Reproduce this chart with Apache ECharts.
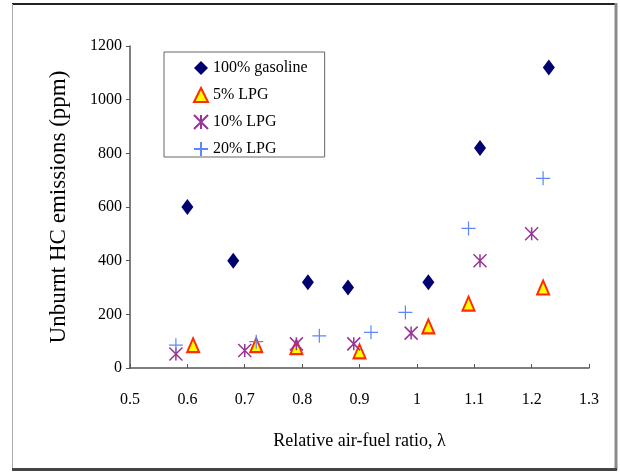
<!DOCTYPE html>
<html>
<head>
<meta charset="utf-8">
<script src="https://cdn.jsdelivr.net/npm/echarts@6/dist/echarts.min.js"></script>
<style>
  html, body { margin: 0; padding: 0; background: #fff; }
  #chart { width: 620px; height: 472px; }
</style>
</head>
<body>
<div id="chart"></div>
<script>
// lambda, ppm pairs
var gasoline = [[0.60, 600], [0.68, 400], [0.81, 320], [0.88, 300], [1.02, 320], [1.11, 820], [1.23, 1120]]
var lpg5 = [[0.61, 85], [0.72, 85], [0.79, 78], [0.90, 62], [1.02, 155], [1.09, 240], [1.22, 300]]
var lpg10 = [[0.58, 52], [0.70, 65], [0.79, 90], [0.89, 90], [0.99, 130], [1.11, 400], [1.20, 500]]
var lpg20 = [[0.58, 85], [0.72, 98], [0.83, 120], [0.92, 133], [0.98, 207], [1.09, 520], [1.22, 707]]
var seriesNames = ['100% gasoline', '5% LPG', '10% LPG', '20% LPG']

var serif = 'Liberation Serif, Times New Roman, serif'
var starPath = 'path://M0,0 L10,10 M10,0 L0,10 M5,0 L5,10'
var plusPath = 'path://M5,0 L5,10 M0,5 L10,5'

var chart = echarts.init(document.getElementById('chart'))

var option = {
  animation: false,
  backgroundColor: '#fff',
  grid: { left: 130, right: 31, top: 46, bottom: 104 },
  legend: {
    orient: 'vertical',
    left: 164,
    top: 52,
    data: seriesNames,
    itemWidth: 14,
    itemHeight: 14,
    itemGap: 11,
    padding: [8, 17, 0, 29],
    borderColor: '#666',
    borderWidth: 1,
    textStyle: { fontFamily: serif, fontSize: 16, color: '#000', lineHeight: 14 }
  },
  xAxis: {
    type: 'value',
    min: 0.5,
    max: 1.3,
    interval: 0.1,
    name: 'Relative air-fuel ratio, λ',
    nameLocation: 'middle',
    nameGap: 64,
    nameTextStyle: { fontFamily: serif, fontSize: 18, color: '#000' },
    axisLine: { lineStyle: { color: '#555', width: 1.5 } },
    axisTick: { inside: true, length: 4, lineStyle: { color: '#555' } },
    axisLabel: { fontFamily: serif, fontSize: 16, color: '#000', margin: 24 },
    splitLine: { show: false }
  },
  yAxis: {
    type: 'value',
    min: 0,
    max: 1200,
    interval: 200,
    name: 'Unburnt HC emissions (ppm)',
    nameLocation: 'middle',
    nameGap: 60,
    nameTextStyle: { fontFamily: serif, fontSize: 23, color: '#000' },
    axisLine: { show: true, lineStyle: { color: '#555', width: 1.5 } },
    axisTick: { show: true, length: 4, lineStyle: { color: '#555' } },
    axisLabel: {
      fontFamily: serif, fontSize: 16, color: '#000', margin: 8,
      formatter: function (v) { return String(v) }
    },
    splitLine: { show: false }
  },
  series: [
    {
      name: seriesNames[0],
      type: 'scatter',
      data: gasoline,
      symbol: 'diamond',
      symbolSize: [12, 16],
      itemStyle: { color: '#000070', opacity: 1 }
    },
    {
      name: seriesNames[1],
      type: 'scatter',
      data: lpg5,
      symbol: 'triangle',
      symbolSize: [12, 14],
      itemStyle: { color: '#ffff00', borderColor: '#ff2a00', borderWidth: 2, opacity: 1 }
    },
    {
      name: seriesNames[2],
      type: 'scatter',
      data: lpg10,
      symbol: starPath,
      symbolSize: 13,
      itemStyle: { color: 'rgba(0,0,0,0)', borderColor: '#993399', borderWidth: 1.5, opacity: 1 }
    },
    {
      name: seriesNames[3],
      type: 'scatter',
      data: lpg20,
      symbol: plusPath,
      symbolSize: 14,
      itemStyle: { color: 'rgba(0,0,0,0)', borderColor: '#5b86ff', borderWidth: 1.2, opacity: 1 }
    }
  ],
  graphic: [
    // page frame around the figure
    { type: 'line', shape: { x1: 12, y1: 4, x2: 616, y2: 4 }, style: { stroke: '#222', lineWidth: 2 } },
    { type: 'line', shape: { x1: 616, y1: 3, x2: 616, y2: 470 }, style: { stroke: '#8a8a8a', lineWidth: 3 } },
    { type: 'line', shape: { x1: 12.5, y1: 4, x2: 12.5, y2: 470 }, style: { stroke: '#aaa', lineWidth: 1 } },
    { type: 'line', shape: { x1: 12, y1: 469.5, x2: 617, y2: 469.5 }, style: { stroke: '#444', lineWidth: 3 } }
  ]
}

chart.setOption(option)
</script>
</body>
</html>
